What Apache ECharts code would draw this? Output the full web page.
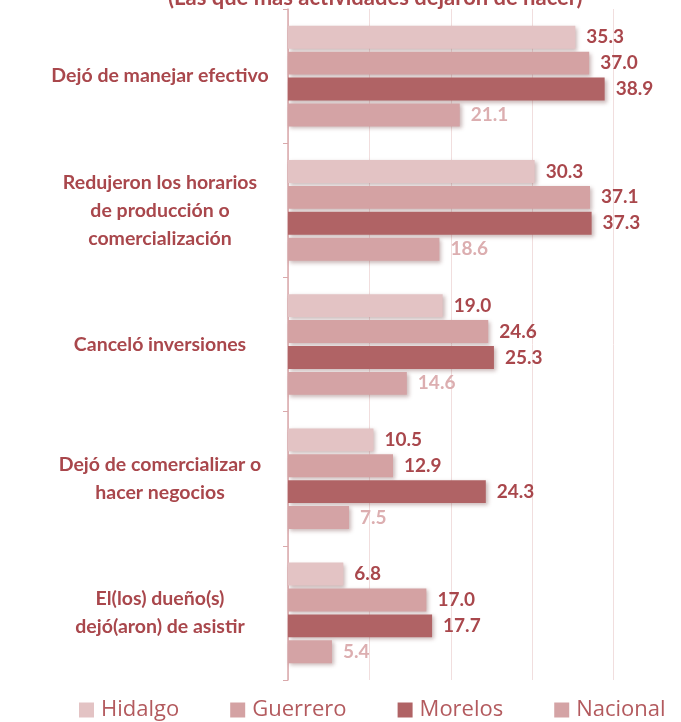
<!DOCTYPE html>
<html>
<head>
<meta charset="utf-8">
<script src="https://cdn.jsdelivr.net/npm/echarts@6/dist/echarts.min.js"></script>
<style>
  html, body { margin: 0; padding: 0; background: #fff; }
  #chart { width: 681px; height: 722px; }
</style>
</head>
<body>
<div id="chart"></div>
<script>
// categorías (de arriba hacia abajo)
const categorias = [
  "Dejó de manejar efectivo",
  "Redujeron los horarios\nde producción o\ncomercialización",
  "Canceló inversiones",
  "Dejó de comercializar o\nhacer negocios",
  "El(los) dueño(s)\ndejó(aron) de asistir"
];

const hidalgo = [35.3, 30.3, 19.0, 10.5, 6.8];
const guerrero = [37.0, 37.1, 24.6, 12.9, 17.0];
const morelos = [38.9, 37.3, 25.3, 24.3, 17.7];
const nacional = [21.1, 18.6, 14.6, 7.5, 5.4];

const FONT = "Lato, 'Open Sans', sans-serif";
const ROJO = "#a9474c";

function serie(nombre, datos, color, colorEtiqueta) {
  return {
    name: nombre,
    type: "bar",
    data: datos,
    barCategoryGap: "25%",
    barGap: "13%",
    itemStyle: {
      color: color,
      shadowBlur: 4,
      shadowColor: "rgba(80,20,20,0.3)",
      shadowOffsetX: 2,
      shadowOffsetY: 2
    },
    label: {
      show: true,
      position: "right",
      distance: 11,
      color: colorEtiqueta,
      fontFamily: FONT,
      fontWeight: "bold",
      fontSize: 19,
      formatter: (p) => Number(p.value).toFixed(1)
    }
  };
}

const chart = echarts.init(document.getElementById("chart"));

chart.setOption({
  animation: false,
  title: {
    text: "(Las que más actividades dejaron de hacer)",
    left: 163,
    top: -18,
    textStyle: { color: ROJO, fontFamily: FONT, fontWeight: "bold", fontSize: 22 }
  },
  grid: { left: 288, width: 407, top: 9, bottom: 42, outerBoundsMode: "none" },
  legend: {
    top: 694,
    left: 74,
    itemWidth: 15,
    itemHeight: 15,
    itemGap: 51,
    icon: "rect",
    textStyle: { color: "#b35a5e", fontFamily: "'Open Sans', sans-serif", fontSize: 22, padding: [0, 0, 0, 2] },
    data: ["Hidalgo", "Guerrero", "Morelos", "Nacional"]
  },
  xAxis: {
    type: "value",
    min: 0,
    max: 50,
    interval: 10,
    axisLabel: { show: false },
    axisLine: { show: false },
    axisTick: { show: false },
    splitLine: { lineStyle: { color: "#f1dede", width: 1 } }
  },
  yAxis: {
    type: "category",
    inverse: true,
    data: categorias,
    axisLine: { show: true, lineStyle: { color: "#d9a9ab", width: 1.5 } },
    axisTick: { show: true, length: 5, lineStyle: { color: "#d9a9ab" } },
    axisLabel: {
      align: "center",
      margin: 128,
      color: ROJO,
      fontFamily: FONT,
      fontWeight: "bold",
      fontSize: 19.5,
      lineHeight: 28
    }
  },
  series: [
    serie("Hidalgo", hidalgo, "#e3c3c4", ROJO),
    serie("Guerrero", guerrero, "#d4a2a3", ROJO),
    serie("Morelos", morelos, "#b06365", ROJO),
    serie("Nacional", nacional, "#d4a3a5", "#dcaeb0")
  ]
});
</script>
</body>
</html>
